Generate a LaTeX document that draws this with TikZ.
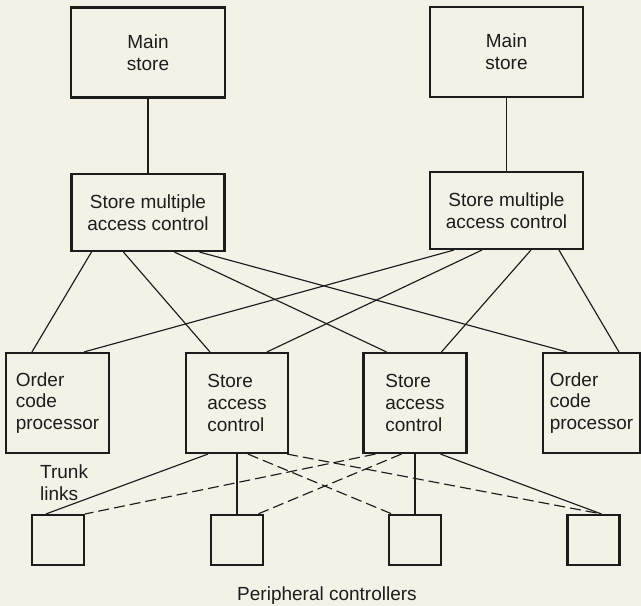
\documentclass[tikz,border=0pt]{standalone}
\usepackage{fontspec}
\setmainfont{Liberation Sans}
\definecolor{paper}{HTML}{F4F1E7}
\definecolor{ink}{HTML}{1C1C1C}
\begin{document}
\begin{tikzpicture}[x=1pt,y=-1pt,
  txt/.style={font=\fontsize{19}{21.8}\selectfont, text=ink},
  box/.style={txt, draw=ink, line width=2.1pt, inner sep=0pt},
  bigbox/.style={box, align=center},
  lowbox/.style={box, align=left, minimum width=103pt, minimum height=100pt},
  perbox/.style={draw=ink, line width=2.1pt, inner sep=0pt, minimum width=52pt, minimum height=50pt},
  conn/.style={draw=ink, line width=1.15pt},
  trunkdash/.style={draw=ink, line width=1.15pt, dash pattern=on 11pt off 5pt}]
\useasboundingbox (0,0) rectangle (641,606);
\fill[paper] (0,0) rectangle (641,606);

% main stores
\node[bigbox, minimum width=154pt, minimum height=90pt] (msL) at (148,52.5) {Main\\store};
\node[bigbox, minimum width=153pt, minimum height=90pt] (msR) at (506.5,52) {Main\\store};
% store multiple access controls
\node[bigbox, minimum width=153pt, minimum height=77pt] (smacL) at (148,212.5) {Store multiple\\access control};
\node[bigbox, minimum width=153pt, minimum height=77pt] (smacR) at (506.5,210.5) {Store multiple\\access control};
% lower row
\node[lowbox] (ocpL) at (57.5,403) {Order\\code\\processor};
\node[lowbox, minimum width=102pt] (sacL) at (237,403) {Store\\access\\control};
\node[lowbox] (sacR) at (415,403) {Store\\access\\control};
\node[lowbox, minimum width=97pt] (ocpR) at (591.5,403) {Order\\code\\processor};
% peripheral controllers
\node[perbox] (p1) at (58,540) {};
\node[perbox] (p2) at (237,540) {};
\node[perbox] (p3) at (415,540) {};
\node[perbox] (p4) at (593.5,540) {};

% labels
\node[txt, anchor=north west, inner sep=0pt, align=left] (trunk) at (40,465) {Trunk\\links};
\node[txt, anchor=base, inner sep=0pt] (perlbl) at (327,600) {Peripheral controllers};

% main store to SMAC
\draw[conn] (msL.south) -- (smacL.north);
\draw[conn] (msR.south) -- (smacR.north);

% SMAC left to lower boxes
\draw[conn] ([xshift=21pt]smacL.south west) -- ([xshift=27pt]ocpL.north west);
\draw[conn] ([xshift=53pt]smacL.south west) -- ([xshift=25pt]sacL.north west);
\draw[conn] ([xshift=104pt]smacL.south west) -- ([xshift=24pt]sacR.north west);
\draw[conn] ([xshift=129pt]smacL.south west) -- ([xshift=25pt]ocpR.north west);
% SMAC right to lower boxes
\draw[conn] ([xshift=25pt]smacR.south west) -- ([xshift=79pt]ocpL.north west);
\draw[conn] ([xshift=53pt]smacR.south west) -- ([xshift=82pt]sacL.north west);
\draw[conn] ([xshift=102pt]smacR.south west) -- ([xshift=79pt]sacR.north west);
\draw[conn] ([xshift=130pt]smacR.south west) -- ([xshift=77pt]ocpR.north west);

% trunk links
\draw[conn] ([xshift=23pt]sacL.south west) -- ([xshift=15pt]p1.north west);
\draw[conn] (sacL.south) -- (p2.north);
\draw[trunkdash] ([xshift=63pt]sacL.south west) -- ([xshift=4pt]p3.north west);
\draw[trunkdash] ([xshift=-2pt]sacL.south east) -- ([xshift=35pt]p4.north west);
\draw[trunkdash] ([xshift=13pt]sacR.south west) -- (p1.north east);
\draw[trunkdash] ([xshift=39pt]sacR.south west) -- ([xshift=-6pt]p2.north east);
\draw[conn] (sacR.south) -- (p3.north);
\draw[conn] ([xshift=78pt]sacR.south west) -- ([xshift=35pt]p4.north west);
\end{tikzpicture}
\end{document}
